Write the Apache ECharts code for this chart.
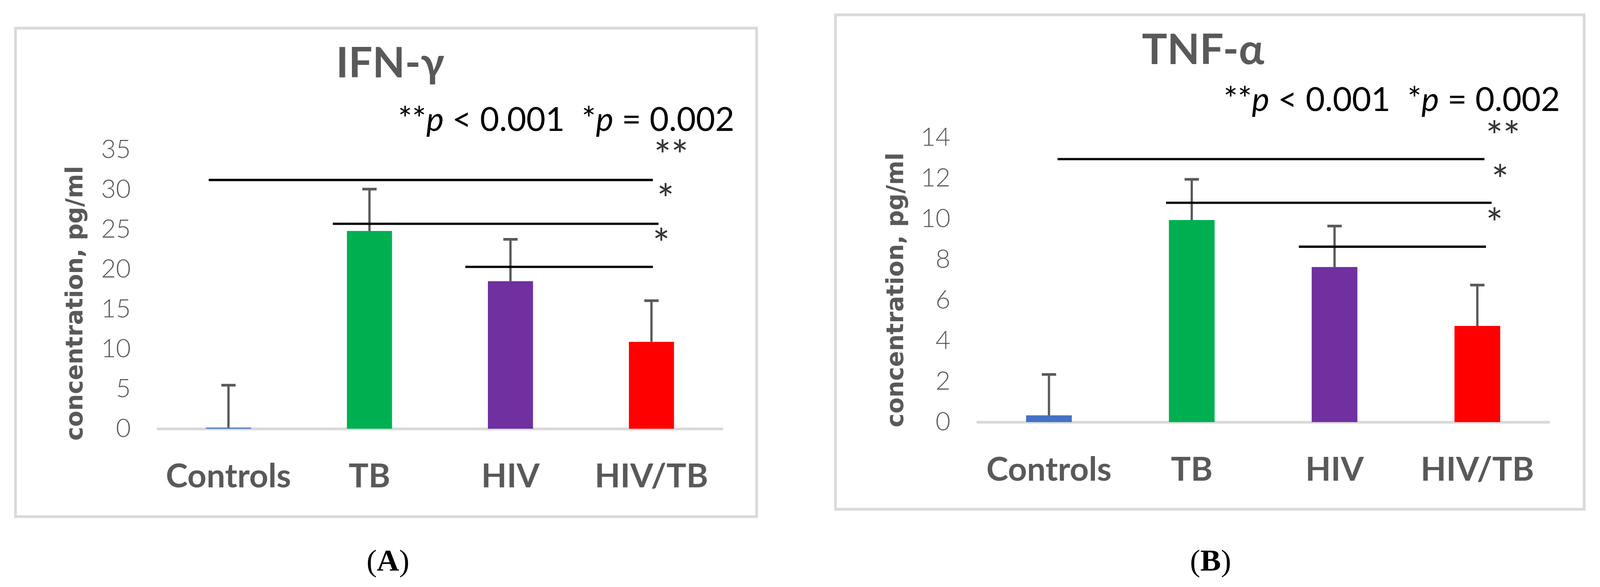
<!DOCTYPE html>
<html>
<head>
<meta charset="utf-8">
<script src="https://cdn.jsdelivr.net/npm/echarts@6/dist/echarts.min.js"></script>
<style>
  html, body { margin: 0; padding: 0; background: #fff; overflow: hidden; }
  #main { width: 100vw; height: 100vh; }
</style>
</head>
<body>
<div id="main"></div>
<script>
// categories and colours
var categories = ['Controls', 'TB', 'HIV', 'HIV/TB'];
var barColors = ['#4472C4', '#00B050', '#7030A0', '#FF0000'];

// panel A: IFN-γ
var ifnMean = [0.15, 24.8, 18.5, 10.9];
var ifnErr = [5.45, 5.4, 5.4, 5.3];
var ifnTicks = { min: 0, max: 35, interval: 5 };
// significance brackets: [from, to, y] in category units
var ifnSigLines = [[-0.14, 3.01, 31.2], [0.74, 3.05, 25.7], [1.68, 3.01, 20.3]];
var ifnSigStars = [['**', 3.14, 34.1], ['*', 3.10, 28.6], ['*', 3.07, 23.0]];

// panel B: TNF-α
var tnfMean = [0.33, 9.94, 7.63, 4.73];
var tnfErr = [2.07, 2.06, 2.07, 2.07];
var tnfTicks = { min: 0, max: 14, interval: 2 };
var tnfSigLines = [[0.06, 3.05, 12.94], [0.82, 3.10, 10.79], [1.75, 3.06, 8.63]];
var tnfSigStars = [['**', 3.18, 14.0], ['*', 3.16, 11.83], ['*', 3.12, 9.71]];

var narrow = 'Lato, "Open Sans", sans-serif';
var grey = '#595959';

var dom = document.getElementById('main');
var myChart = echarts.init(dom);
// layout was measured on a 4244x1502 page, scale it to the real viewport
var sx = dom.clientWidth / 4244, sy = dom.clientHeight / 1502, k = Math.min(sx, sy);
function X(v) { return v * sx; }
function Y(v) { return v * sy; }
function K(v) { return v * k; }

function barSeries(vals, idx) {
  return {
    type: 'bar',
    xAxisIndex: idx, yAxisIndex: idx,
    barWidth: '32%',
    data: vals.map(function (v, i) {
      return { value: v, itemStyle: { color: barColors[i] } };
    }),
    z: 2
  };
}

function errSeries(vals, errs, idx) {
  return {
    type: 'custom',
    xAxisIndex: idx, yAxisIndex: idx,
    z: 3,
    data: vals.map(function (v, i) { return [i, v, v + errs[i]]; }),
    renderItem: function (params, api) {
      var base = api.coord([api.value(0), api.value(1)]);
      var top = api.coord([api.value(0), api.value(2)]);
      var half = K(19), off = K(3);
      return {
        type: 'group',
        children: [
          { type: 'line', shape: { x1: base[0], y1: base[1], x2: top[0], y2: top[1] }, style: { stroke: grey, lineWidth: K(6) } },
          { type: 'line', shape: { x1: top[0] - half, y1: top[1] + off, x2: top[0] + half, y2: top[1] + off }, style: { stroke: grey, lineWidth: K(7) } }
        ]
      };
    }
  };
}

function sigSeries(lines, stars, idx) {
  var out = lines.map(function (l) {
    return {
      type: 'line',
      xAxisIndex: idx + 2, yAxisIndex: idx,
      symbol: 'none',
      silent: true,
      lineStyle: { color: '#000', width: K(6) },
      data: [[l[0], l[2]], [l[1], l[2]]],
      z: 4
    };
  });
  out.push({
    type: 'scatter',
    xAxisIndex: idx + 2, yAxisIndex: idx,
    symbolSize: 0,
    data: stars.map(function (s) { return { name: s[0], value: [s[1], s[2]] }; }),
    label: {
      show: true, position: 'inside', formatter: '{b}',
      color: '#000', fontFamily: narrow, fontSize: K(108)
    },
    z: 5
  });
  return out;
}

function yAxis(t, idx) {
  return {
    type: 'value', gridIndex: idx,
    min: t.min, max: t.max, interval: t.interval,
    axisLine: { show: false }, axisTick: { show: false },
    splitLine: { show: false },
    axisLabel: { color: grey, fontFamily: narrow, fontWeight: 300, fontSize: K(68), margin: X(72) }
  };
}

function catAxis(idx) {
  return {
    type: 'category', gridIndex: idx, data: categories,
    axisTick: { show: false },
    axisLine: { lineStyle: { color: '#D9D9D9', width: K(7) } },
    axisLabel: { interval: 0, color: grey, fontFamily: narrow, fontWeight: 'bold', fontSize: K(88), margin: Y(80) }
  };
}

function hiddenX(idx) {
  return { type: 'value', gridIndex: idx, min: -0.5, max: 3.5, show: false };
}

function sigText(x, y) {
  return {
    type: 'text', x: X(x), y: Y(y),
    style: {
      text: '{a|**}{i|p}{a| < 0.001  *}{i|p}{a| = 0.002}',
      align: 'right', verticalAlign: 'middle',
      rich: {
        a: { fontFamily: narrow, fontSize: K(88), fill: '#000' },
        i: { fontFamily: narrow, fontSize: K(88), fontStyle: 'italic', fill: '#000' }
      }
    }
  };
}

function panelLabel(letter, x) {
  return {
    type: 'text', x: X(x), y: Y(1440),
    style: {
      text: '{p|(}{b|' + letter + '}{p|)}', align: 'center', verticalAlign: 'middle',
      rich: {
        p: { fontFamily: '"Liberation Serif", serif', fontSize: K(82), fill: '#000' },
        b: { fontFamily: '"Liberation Serif", serif', fontSize: K(82), fontWeight: 'bold', fill: '#000' }
      }
    }
  };
}

function axisName(x, y) {
  return {
    type: 'text', x: X(x), y: Y(y), rotation: Math.PI / 2,
    style: {
      text: 'concentration, pg/ml', align: 'center', verticalAlign: 'middle', fill: grey,
      fontFamily: '"DejaVu Sans", Verdana, sans-serif', fontWeight: 'bold', fontSize: K(62)
    }
  };
}

function frame(x, y, w, h) {
  return {
    type: 'rect', z: -1,
    shape: { x: X(x), y: Y(y), width: X(w), height: Y(h) },
    style: { fill: 'none', stroke: '#D9D9D9', lineWidth: K(7) }
  };
}

function title(text, x, y) {
  return {
    type: 'text', x: X(x), y: Y(y),
    style: { text: text, align: 'center', verticalAlign: 'middle', fill: grey,
             fontFamily: narrow, fontWeight: 'bold', fontSize: K(112) }
  };
}

myChart.setOption({
  animation: false,
  backgroundColor: '#fff',
  grid: [
    { left: X(419), top: Y(383), width: X(1496), height: Y(714) },
    { left: X(2593), top: Y(352), width: X(1515), height: Y(728) }
  ],
  xAxis: [catAxis(0), catAxis(1), hiddenX(0), hiddenX(1)],
  yAxis: [yAxis(ifnTicks, 0), yAxis(tnfTicks, 1)],
  series: [].concat(
    [barSeries(ifnMean, 0), errSeries(ifnMean, ifnErr, 0)],
    sigSeries(ifnSigLines, ifnSigStars, 0),
    [barSeries(tnfMean, 1), errSeries(tnfMean, tnfErr, 1)],
    sigSeries(tnfSigLines, tnfSigStars, 1)
  ),
  graphic: [
    frame(41, 72, 1966, 1250),
    frame(2216, 38, 1986, 1265),
    title('IFN-γ', 1035, 163),
    title('TNF-α', 3191, 129),
    sigText(1948, 308),
    sigText(4138, 257),
    axisName(203, 776),
    axisName(2379, 742),
    panelLabel('A', 1029),
    panelLabel('B', 3211)
  ]
});
</script>
</body>
</html>
